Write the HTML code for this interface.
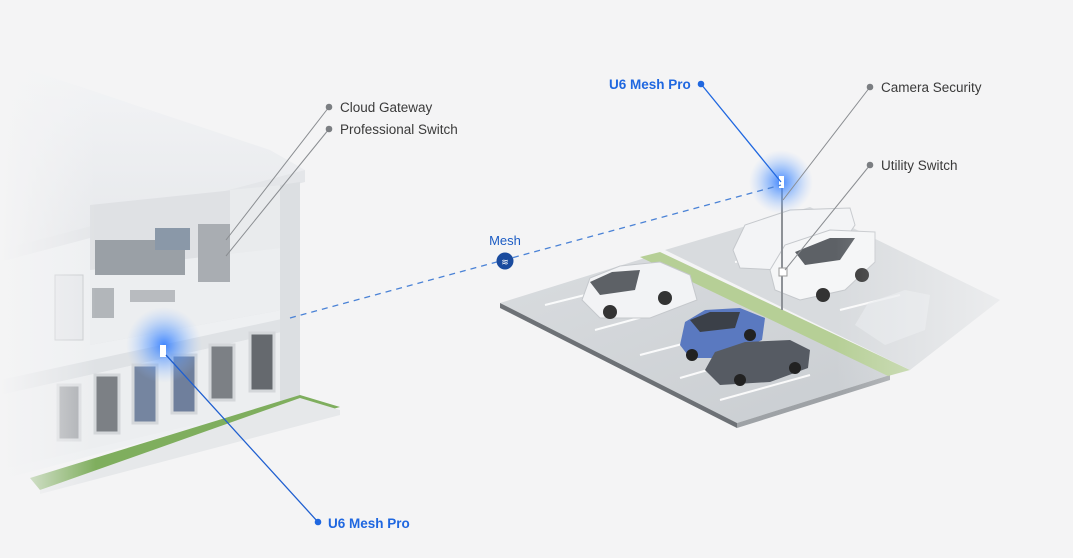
<!DOCTYPE html>
<html><head><meta charset="utf-8"><style>
html,body{margin:0;padding:0;background:#f4f4f5;}
svg{display:block}
text{font-family:"Liberation Sans",sans-serif;font-size:13.5px;fill:#3a3a3a}
</style></head><body>
<svg width="1073" height="558" viewBox="0 0 1073 558" xmlns="http://www.w3.org/2000/svg">
<defs>
<radialGradient id="glow"><stop offset="0" stop-color="#2f7bff" stop-opacity="0.9"/><stop offset="0.5" stop-color="#5b9bff" stop-opacity="0.45"/><stop offset="1" stop-color="#9cc2ff" stop-opacity="0"/></radialGradient>
<linearGradient id="fadeL" x1="0" x2="1"><stop offset="0" stop-color="#f4f4f5" stop-opacity="1"/><stop offset="0.3" stop-color="#f4f4f5" stop-opacity="0"/></linearGradient>
<linearGradient id="fadeR" x1="0" x2="1"><stop offset="0.6" stop-color="#f4f4f5" stop-opacity="0"/><stop offset="1" stop-color="#f4f4f5" stop-opacity="1"/></linearGradient>
<linearGradient id="lot" x1="0" y1="0" x2="1" y2="1"><stop offset="0" stop-color="#d9dcdf"/><stop offset="1" stop-color="#c9cdd1"/></linearGradient>
<linearGradient id="roof" x1="0" y1="0" x2="0" y2="1"><stop offset="0" stop-color="#f3f4f6"/><stop offset="1" stop-color="#e6e8eb"/></linearGradient>
</defs>
<rect width="1073" height="558" fill="#f4f4f5"/>

<!-- House -->
<g>
<polygon points="0,60 270,150 305,170 50,240 0,250" fill="url(#roof)"/>
<polygon points="0,250 305,170 305,182 0,262" fill="#e4e6e9"/>
<polygon points="0,262 300,182 300,400 0,480" fill="#eef0f2"/>
<polygon points="90,205 282,185 282,310 90,345" fill="#dfe1e4"/>
<polygon points="230,190 282,185 282,310 230,318" fill="#e9ebed"/>
<polygon points="90,270 282,248 282,310 90,345" fill="#eceef0"/>
<rect x="198" y="224" width="32" height="58" fill="#a9adb2"/>
<rect x="95" y="240" width="90" height="35" fill="#9aa0a6"/>
<rect x="155" y="228" width="35" height="22" fill="#8a98a8"/>
<rect x="92" y="288" width="22" height="30" fill="#b2b6ba"/>
<rect x="130" y="290" width="45" height="12" fill="#b8bbbf"/>
<polygon points="0,380 300,315 300,328 0,395" fill="#dfe2e5"/>
<polygon points="0,395 300,328 300,400 0,470" fill="#eceef0"/>
<polygon points="280,185 300,182 300,400 280,405" fill="#dcdfe2"/>
<rect x="55" y="275" width="28" height="65" fill="#e6e8eb" stroke="#c7cacd"/>
<g stroke="#d4d7da" stroke-width="3">
<rect x="58" y="385" width="22" height="55" fill="#8a8e93" opacity="0.7"/>
<rect x="95" y="375" width="24" height="58" fill="#7c8085"/>
<rect x="133" y="365" width="24" height="58" fill="#7585a0"/>
<rect x="172" y="355" width="24" height="58" fill="#6f7f9c"/>
<rect x="210" y="345" width="24" height="55" fill="#7c8085"/>
<rect x="250" y="333" width="24" height="58" fill="#65696e"/>
</g>
<polygon points="300,395 340,407 40,490 30,478" fill="#7fae5e"/>
<polygon points="300,398 340,410 340,415 40,494 40,490" fill="#e6e8ea"/>
<rect x="0" y="0" width="320" height="558" fill="url(#fadeL)"/>
</g>

<!-- Parking -->
<g>
<polygon points="500,303 645,258 890,375 737,423" fill="url(#lot)"/>
<polygon points="500,303 737,423 737,428 500,308" fill="#6d7176"/>
<polygon points="737,423 890,375 890,380 737,428" fill="#9ea2a6"/>
<polygon points="640,257 660,252 910,370 888,376" fill="#b6cf96"/>
<polygon points="665,250 810,207 1000,300 910,370" fill="#d8dbde"/>
<g stroke="#fff" stroke-width="2" opacity="0.9">
<line x1="545" y1="305" x2="585" y2="295"/><line x1="595" y1="330" x2="650" y2="315"/>
<line x1="640" y1="355" x2="690" y2="342"/><line x1="680" y1="378" x2="725" y2="365"/>
<line x1="720" y1="400" x2="810" y2="375"/>
<line x1="735" y1="262" x2="780" y2="255"/><line x1="790" y1="285" x2="840" y2="275"/>
<line x1="840" y1="310" x2="900" y2="295"/>
</g>
<path d="M582,300 L590,278 L620,266 L660,262 L690,275 L697,300 L650,318 L600,318 Z" fill="#f2f3f5" stroke="#c5c8cc"/>
<path d="M590,282 L612,272 L640,270 L635,290 L600,295 Z" fill="#5d6166"/>
<circle cx="610" cy="312" r="7" fill="#333"/><circle cx="665" cy="298" r="7" fill="#333"/>
<path d="M680,345 L685,322 L705,310 L740,308 L765,318 L762,340 L720,358 L690,358 Z" fill="#5a79c0"/>
<path d="M690,320 L710,312 L740,312 L735,328 L700,332 Z" fill="#3b4048"/>
<circle cx="692" cy="355" r="6" fill="#222"/><circle cx="750" cy="335" r="6" fill="#222"/>
<path d="M705,370 L715,352 L745,342 L790,340 L810,350 L808,368 L770,382 L720,385 Z" fill="#565b63"/>
<circle cx="740" cy="380" r="6" fill="#222"/><circle cx="795" cy="368" r="6" fill="#222"/>
<path d="M733,250 L745,225 L790,210 L850,208 L855,225 L835,255 L780,270 L740,268 Z" fill="#f3f4f6" stroke="#c5c8cc"/>
<circle cx="790" cy="266" r="7" fill="#333"/>
<path d="M770,270 L785,245 L830,230 L875,232 L875,262 L845,290 L800,300 L775,290 Z" fill="#f5f6f7" stroke="#c5c8cc"/>
<path d="M795,252 L830,238 L855,238 L840,260 L805,265 Z" fill="#5d6166"/>
<circle cx="823" cy="295" r="7" fill="#333"/><circle cx="862" cy="275" r="7" fill="#333"/>
<path d="M855,325 L868,303 L905,290 L930,295 L925,330 L885,345 Z" fill="#e7e9ec" opacity="0.7"/>
<rect x="480" y="180" width="593" height="260" fill="url(#fadeR)"/>
</g>

<line x1="782" y1="185" x2="782" y2="310" stroke="#8d9196" stroke-width="2"/>
<circle cx="781" cy="182" r="32" fill="url(#glow)"/>
<rect x="779" y="176" width="5" height="12" fill="#fff"/>
<circle cx="164" cy="345" r="38" fill="url(#glow)"/>
<rect x="160" y="345" width="6" height="12" fill="#fff"/>
<rect x="779" y="268" width="8" height="8" fill="#fff" stroke="#999"/>

<line x1="290" y1="318" x2="781" y2="185" stroke="#4a82d6" stroke-width="1.3" stroke-dasharray="6,5"/>
<circle cx="505" cy="261" r="8.5" fill="#1a4b9e"/>
<text x="505" y="265" text-anchor="middle" style="font-size:9px;fill:#fff">≋</text>
<text x="505" y="245" text-anchor="middle" style="fill:#1c5cc4;font-size:13px">Mesh</text>

<g stroke="#8a8d91" stroke-width="1">
<line x1="329" y1="107" x2="226" y2="240"/>
<line x1="329" y1="129" x2="226" y2="256"/>
<line x1="870" y1="87" x2="783" y2="200"/>
<line x1="870" y1="165" x2="785" y2="270"/>
</g>
<g fill="#7b7e82"><circle cx="329" cy="107" r="3.3"/><circle cx="329" cy="129" r="3.3"/><circle cx="870" cy="87" r="3.3"/><circle cx="870" cy="165" r="3.3"/></g>
<line x1="701" y1="84" x2="781" y2="182" stroke="#1f67e0" stroke-width="1.3"/>
<line x1="166" y1="355" x2="318" y2="522" stroke="#1f5fd0" stroke-width="1.3"/>
<g fill="#1f67e0"><circle cx="701" cy="84" r="3.3"/><circle cx="318" cy="522" r="3.3"/></g>

<text x="340" y="112">Cloud Gateway</text>
<text x="340" y="134">Professional Switch</text>
<text x="881" y="92">Camera Security</text>
<text x="881" y="170">Utility Switch</text>
<text x="609" y="89" style="fill:#1f67e0;font-weight:bold">U6 Mesh Pro</text>
<text x="328" y="528" style="fill:#1f67e0;font-weight:bold">U6 Mesh Pro</text>
</svg>
</body></html>
